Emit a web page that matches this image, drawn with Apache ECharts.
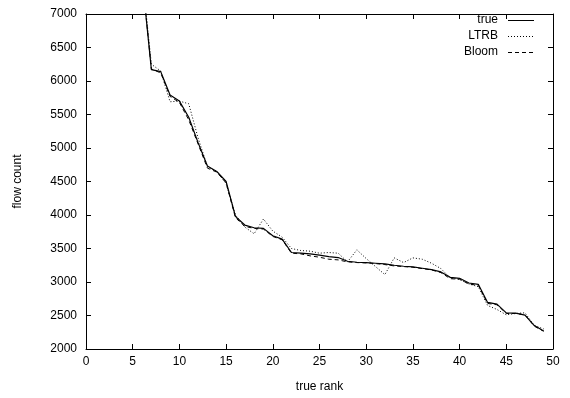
<!DOCTYPE html>
<html>
<head>
<meta charset="utf-8">
<script src="https://cdn.jsdelivr.net/npm/echarts@6/dist/echarts.min.js"></script>
<style>
  html, body { margin: 0; padding: 0; background: #fff; }
  #chart { width: 570px; height: 398px; }
</style>
</head>
<body>
<div id="chart"></div>
<script>
// ranks
const ranks = [6, 7, 8, 9, 10, 11, 12, 13, 14, 15, 16, 17, 18, 19, 20, 21, 22, 23, 24, 25, 26, 27,
  28, 29, 30, 31, 32, 33, 34, 35, 36, 37, 38, 39, 40, 41, 42, 43, 44, 45, 46, 47, 48, 49]

// flow counts per series
const trueCounts = [7550, 6170, 6140, 5790, 5700, 5460, 5080, 4730, 4650, 4500, 3980, 3850, 3810, 3800,
  3690, 3640, 3440, 3430, 3420, 3400, 3380, 3365, 3310, 3295, 3290, 3280, 3270, 3250, 3235, 3225,
  3205, 3185, 3150, 3070, 3055, 2985, 2965, 2695, 2670, 2540, 2535, 2505, 2350, 2270]
const ltrbCounts = [7600, 6250, 6150, 5690, 5700, 5660, 5150, 4720, 4650, 4470, 4000, 3820, 3720, 3940,
  3760, 3670, 3500, 3470, 3460, 3430, 3440, 3430, 3300, 3480, 3350, 3230, 3110, 3360, 3290, 3360,
  3340, 3280, 3200, 3060, 3040, 2970, 2930, 2650, 2590, 2510, 2530, 2540, 2350, 2300]
const bloomCounts = [7560, 6180, 6120, 5770, 5680, 5420, 5060, 4700, 4640, 4480, 3960, 3830, 3800, 3790,
  3680, 3630, 3430, 3420, 3390, 3370, 3340, 3330, 3300, 3290, 3285, 3275, 3260, 3240, 3230, 3220,
  3200, 3180, 3140, 3050, 3040, 2970, 2950, 2680, 2660, 2530, 2530, 2510, 2340, 2265]

const seriesNames = ['true', 'LTRB', 'Bloom']
const dashes = ['solid', [1, 2], [4, 3]]
const widths = [1.2, 1, 1]

const font = 'Liberation Sans, Arial, Helvetica, sans-serif'

const toPairs = (vals) => ranks.map((r, i) => [r, vals[i]])

const chart = echarts.init(document.getElementById('chart'), null, { renderer: 'canvas' })

// shared axis look: black box, ticks inside
const axisLine = { show: true, onZero: false, lineStyle: { color: '#000', width: 1 } }
const axisTick = { show: true, inside: true, length: 5, lineStyle: { color: '#000', width: 1 } }

const mkSeries = (idx, vals) => ({
  name: seriesNames[idx],
  type: 'line',
  data: toPairs(vals),
  symbol: 'none',
  showSymbol: false,
  clip: true,
  lineStyle: { color: '#000', width: widths[idx], type: dashes[idx] }
})

// gnuplot-style key: right-aligned label, line sample to its right
const legendItems = []
seriesNames.forEach((name, i) => {
  const y = 20 + i * 16
  legendItems.push({
    type: 'text',
    x: 498, y,
    style: { text: name, fill: '#000', font: '12px ' + font, textAlign: 'right', textVerticalAlign: 'middle' }
  })
  legendItems.push({
    type: 'line',
    shape: { x1: 508, y1: y + 0.5, x2: 534, y2: y + 0.5 },
    style: { stroke: '#000', lineWidth: 1, lineDash: dashes[i] === 'solid' ? null : dashes[i] }
  })
})

chart.setOption({
  animation: false,
  grid: { left: 86, right: 17, top: 14, bottom: 49 },
  graphic: legendItems,
  xAxis: [
    {
      type: 'value', min: 0, max: 50, interval: 5,
      name: 'true rank', nameLocation: 'middle', nameGap: 32,
      nameTextStyle: { fontFamily: font, fontSize: 12, color: '#000' },
      axisLine, axisTick,
      axisLabel: { fontFamily: font, fontSize: 12, color: '#000', margin: 7 },
      splitLine: { show: false }
    },
    {
      type: 'value', min: 0, max: 50, interval: 5, position: 'top',
      axisLine, axisTick, axisLabel: { show: false }, splitLine: { show: false }
    }
  ],
  yAxis: [
    {
      type: 'value', min: 2000, max: 7000, interval: 500,
      name: 'flow count', nameLocation: 'middle', nameGap: 62, nameRotate: 90,
      nameTextStyle: { fontFamily: font, fontSize: 12, color: '#000' },
      axisLine, axisTick,
      axisLabel: { fontFamily: font, fontSize: 12, color: '#000', margin: 9, formatter: (v) => String(v) },
      splitLine: { show: false }
    },
    {
      type: 'value', min: 2000, max: 7000, interval: 500, position: 'right',
      axisLine, axisTick, axisLabel: { show: false }, splitLine: { show: false }
    }
  ],
  series: [
    mkSeries(0, trueCounts),
    mkSeries(1, ltrbCounts),
    mkSeries(2, bloomCounts)
  ]
})
</script>
</body>
</html>
